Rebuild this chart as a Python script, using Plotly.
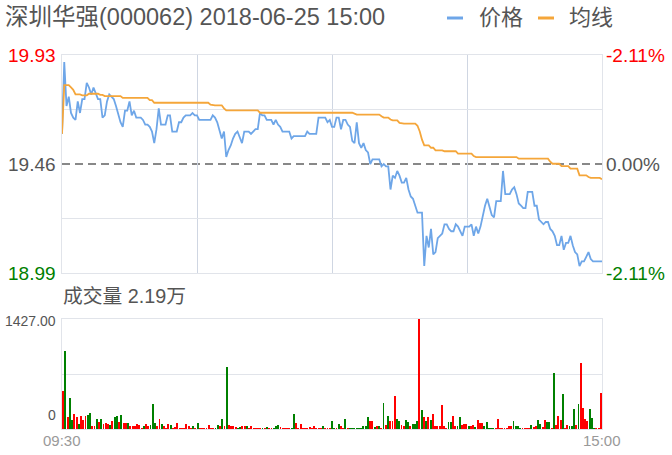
import plotly.graph_objects as go

# ---------------- data ----------------
title_text = "深圳华强(000062) 2018-06-25 15:00"
legend_names = ["价格", "均线"]
volume_caption = "成交量 2.19万"
pre_close = 19.46
price_top = 19.93
price_bottom = 18.99
grid_levels = [19.225, 19.695]
left_vals = [19.93, 19.46, 18.99]
left_text = ["19.93", "19.46", "18.99"]
right_text = ["-2.11%", "0.00%", "-2.11%"]
vol_max = 1427.0
vol_labels = ["1427.00", "0"]
time_labels = ["09:30", "15:00"]
time_pos = [0, 240]

price = [
    19.59, 19.90, 19.71, 19.75, 19.68, 19.66, 19.65, 19.73, 19.68, 19.74,
    19.74, 19.81, 19.79, 19.76, 19.79, 19.76, 19.74, 19.74, 19.66, 19.67,
    19.73, 19.76, 19.75, 19.74, 19.71, 19.67, 19.64, 19.62, 19.69, 19.69,
    19.73, 19.67, 19.69, 19.66, 19.66, 19.66, 19.65, 19.63, 19.63, 19.62,
    19.60, 19.55, 19.61, 19.70, 19.63, 19.63, 19.63, 19.67, 19.67, 19.60,
    19.60, 19.60, 19.64, 19.64, 19.66, 19.67, 19.67, 19.67, 19.68, 19.67,
    19.67, 19.65, 19.65, 19.65, 19.65, 19.65, 19.65, 19.67, 19.66, 19.64,
    19.60, 19.57, 19.60, 19.49, 19.52, 19.54, 19.57, 19.59, 19.60, 19.57,
    19.55, 19.60, 19.60, 19.60, 19.59, 19.60, 19.61, 19.61, 19.68, 19.67,
    19.67, 19.65, 19.65, 19.65, 19.63, 19.65, 19.63, 19.62, 19.60, 19.60,
    19.60, 19.60, 19.57, 19.58, 19.58, 19.58, 19.58, 19.58, 19.58, 19.60,
    19.59, 19.59, 19.59, 19.59, 19.66, 19.66, 19.66, 19.66, 19.64, 19.65,
    19.62, 19.62, 19.66, 19.66, 19.61, 19.65, 19.65, 19.63, 19.62, 19.56,
    19.55, 19.64, 19.55, 19.53, 19.55, 19.52, 19.51, 19.46, 19.48, 19.48,
    19.48, 19.48, 19.45, 19.46, 19.45, 19.45, 19.35, 19.41, 19.40, 19.43,
    19.41, 19.38, 19.38, 19.40, 19.35, 19.32, 19.31, 19.28, 19.25, 19.25,
    19.25, 19.02, 19.15, 19.10, 19.18, 19.07, 19.08, 19.14, 19.15, 19.16,
    19.20, 19.20, 19.18, 19.17, 19.17, 19.20, 19.19, 19.17, 19.15, 19.19,
    19.19, 19.19, 19.20, 19.15, 19.19, 19.16, 19.19, 19.24, 19.28, 19.31,
    19.27, 19.24, 19.23, 19.30, 19.30, 19.30, 19.43, 19.33, 19.33, 19.33,
    19.35, 19.36, 19.33, 19.29, 19.28, 19.27, 19.27, 19.34, 19.34, 19.34,
    19.28, 19.28, 19.22, 19.21, 19.20, 19.21, 19.21, 19.18, 19.17, 19.15,
    19.11, 19.11, 19.15, 19.09, 19.12, 19.12, 19.15, 19.11, 19.08, 19.07,
    19.02, 19.04, 19.04, 19.06, 19.08, 19.05, 19.04, 19.04, 19.04, 19.04, 19.04,
]

avg = [
    19.59, 19.80, 19.80, 19.80, 19.79, 19.78, 19.76, 19.76, 19.76, 19.756,
    19.756, 19.756, 19.763, 19.763, 19.763, 19.763, 19.763, 19.758, 19.758, 19.753,
    19.753, 19.753, 19.753, 19.753, 19.753, 19.753, 19.753, 19.745, 19.745, 19.745,
    19.745, 19.745, 19.745, 19.745, 19.745, 19.745, 19.745, 19.745, 19.745, 19.735,
    19.735, 19.724, 19.724, 19.724, 19.724, 19.724, 19.724, 19.724, 19.724, 19.724,
    19.724, 19.724, 19.724, 19.724, 19.724, 19.724, 19.724, 19.724, 19.724, 19.724,
    19.724, 19.724, 19.724, 19.724, 19.724, 19.724, 19.716, 19.713, 19.713, 19.713,
    19.713, 19.713, 19.700, 19.691, 19.691, 19.691, 19.691, 19.691, 19.691, 19.691,
    19.691, 19.691, 19.691, 19.691, 19.691, 19.691, 19.691, 19.691, 19.681, 19.681,
    19.681, 19.681, 19.681, 19.681, 19.681, 19.681, 19.681, 19.681, 19.681, 19.681,
    19.681, 19.681, 19.681, 19.681, 19.681, 19.681, 19.681, 19.681, 19.681, 19.681,
    19.681, 19.681, 19.681, 19.681, 19.681, 19.681, 19.681, 19.681, 19.681, 19.681,
    19.681, 19.681, 19.681, 19.681, 19.681, 19.681, 19.681, 19.681, 19.681, 19.681,
    19.677, 19.673, 19.673, 19.673, 19.673, 19.673, 19.673, 19.673, 19.673, 19.673,
    19.673, 19.673, 19.666, 19.660, 19.660, 19.660, 19.652, 19.648, 19.648, 19.648,
    19.637, 19.634, 19.634, 19.634, 19.634, 19.634, 19.634, 19.634, 19.625, 19.600,
    19.565, 19.540, 19.540, 19.540, 19.530, 19.530, 19.519, 19.519, 19.519, 19.519,
    19.515, 19.515, 19.515, 19.515, 19.515, 19.515, 19.505, 19.505, 19.505, 19.505,
    19.505, 19.505, 19.505, 19.494, 19.490, 19.490, 19.490, 19.490, 19.490, 19.490,
    19.490, 19.490, 19.490, 19.490, 19.490, 19.490, 19.490, 19.490, 19.490, 19.490,
    19.490, 19.490, 19.490, 19.483, 19.483, 19.483, 19.483, 19.483, 19.483, 19.483,
    19.483, 19.483, 19.483, 19.483, 19.483, 19.483, 19.483, 19.470, 19.461, 19.461,
    19.461, 19.461, 19.451, 19.451, 19.451, 19.451, 19.440, 19.440, 19.440, 19.440,
    19.411, 19.411, 19.411, 19.411, 19.404, 19.400, 19.400, 19.400, 19.400, 19.400, 19.394,
]

volume = [
    497, 1016, 156, 402, 121, 199, 156, 69, 164, 121,
    164, 186, 208, 35, 35, 130, 86, 130, 69, 78,
    69, 56, 99, 156, 164, 86, 186, 78, 78, 78,
    35, 35, 35, 69, 56, 9, 35, 69, 35, 56,
    329, 78, 35, 130, 69, 43, 13, 69, 56, 13,
    26, 78, 13, 9, 17, 65, 35, 17, 43, 9,
    78, 13, 9, 9, 9, 56, 9, 9, 9, 56,
    35, 130, 43, 800, 52, 35, 35, 26, 17, 26,
    35, 43, 35, 9, 35, 17, 9, 9, 9, 17,
    9, 26, 13, 9, 9, 35, 56, 26, 9, 9,
    9, 9, 13, 199, 78, 13, 69, 13, 13, 13,
    26, 9, 35, 9, 9, 9, 43, 9, 9, 9,
    99, 9, 13, 69, 35, 9, 130, 17, 9, 13,
    9, 13, 9, 9, 35, 35, 156, 99, 99, 26,
    35, 35, 13, 337, 56, 173, 99, 99, 424, 130,
    99, 56, 35, 112, 86, 35, 69, 69, 104, 1427,
    251, 156, 99, 156, 121, 195, 35, 35, 35, 316,
    35, 13, 86, 86, 164, 35, 35, 156, 56, 69,
    69, 35, 35, 56, 26, 121, 78, 78, 35, 86,
    9, 9, 9, 9, 130, 9, 9, 9, 13, 35,
    43, 104, 35, 35, 17, 9, 9, 9, 9, 52,
    26, 35, 112, 69, 26, 112, 86, 86, 9, 726,
    52, 173, 121, 458, 17, 52, 35, 35, 259, 52,
    329, 856, 272, 130, 99, 259, 147, 9, 9, 9, 467,
]

# r = red bar, g = green bar, one character per minute (rows of 10)
vol_dir = "".join([
    "rgrggrrgrr", "rggrrgrgrr", "rgrggrgrrg", "rrrrrrgrrg",
    "ggrrgrrrgr", "rrrrrrrrgr", "grrrrrrrgg", "rgrgrrrrgg",
    "rrgrrrrrrg", "rgrrgggrrr", "rrggrrrrrr", "rrrrrrgrrr",
    "ggrgrrgrgg", "gggggggrrg", "rgrgrgrrrg", "grrggrgggr",
    "grgrgrrrrr", "rrggrrggrr", "rgrrgrrrgg", "gggrrrrrrr",
    "rggggrrrrg", "rrggrrggrg", "rrrgrrgggr", "grrrrgggrrr",
])

# ---------------- styling ----------------
W, H = 672, 455
BLUE = "#6ea6e8"
ORANGE = "#f5a63a"
RED = "#ff0000"
GREEN = "#008000"
HGRID = "#e1e4ea"
VGRID = "#cfd6e2"
TXT = "#555555"
FONT = "Liberation Sans, Arial, Noto Sans CJK SC, sans-serif"


def px(x):
    return x / W


def py(y):
    return 1 - y / H


idx = list(range(len(price)))
bar_colors = [RED if c == "r" else GREEN for c in vol_dir]

fig = go.Figure()
fig.add_trace(go.Scatter(x=idx, y=price, mode="lines", line=dict(color=BLUE, width=1.8),
                         xaxis="x", yaxis="y", hoverinfo="skip", showlegend=False))
fig.add_trace(go.Scatter(x=idx, y=avg, mode="lines", line=dict(color=ORANGE, width=1.8),
                         xaxis="x", yaxis="y", hoverinfo="skip", showlegend=False))
fig.add_trace(go.Bar(x=list(range(len(volume))), y=volume, marker=dict(color=bar_colors, line=dict(width=0)),
                     width=0.85, xaxis="x2", yaxis="y2", hoverinfo="skip", showlegend=False))

axis_common = dict(zeroline=False, showline=True, mirror=True, linecolor=HGRID, linewidth=1,
                   showticklabels=False, ticks="", fixedrange=True)

fig.update_layout(
    width=W, height=H, autosize=False,
    margin=dict(l=0, r=0, t=0, b=0),
    paper_bgcolor="white", plot_bgcolor="white",
    font=dict(family=FONT, color=TXT),
    showlegend=False,
    hovermode=False,
    xaxis=dict(domain=[px(62), px(602)], range=[0, 240], anchor="y",
               tickvals=[60, 120, 180], showgrid=True, gridcolor=VGRID, gridwidth=1, **axis_common),
    yaxis=dict(domain=[py(273), py(55)], range=[price_bottom, price_top], anchor="x",
               tickvals=grid_levels, showgrid=True, gridcolor=HGRID, gridwidth=1, **axis_common),
    xaxis2=dict(domain=[px(62), px(602)], range=[-0.5, len(volume) - 0.5], anchor="y2",
                showgrid=False, **axis_common),
    yaxis2=dict(domain=[py(429), py(319)], range=[0, vol_max], anchor="x2",
                tickvals=[vol_max / 2], showgrid=True, gridcolor=HGRID, gridwidth=1, **axis_common),
    bargap=0,
)

fig.add_shape(type="line", xref="x", yref="y", x0=0, x1=240, y0=pre_close, y1=pre_close,
              line=dict(color="#888888", width=2, dash="8px,5px"), layer="below")

ann = []
# title
ann.append(dict(text=title_text, xref="paper", yref="paper", x=px(3), y=py(17),
                xanchor="left", yanchor="middle", showarrow=False,
                font=dict(size=23.5, color=TXT, family=FONT)))
# legend
leg_colors = [BLUE, ORANGE]
leg_line_x = [447, 538]
leg_text_x = [477, 567]
for name, col, lx, tx in zip(legend_names, leg_colors, leg_line_x, leg_text_x):
    fig.add_shape(type="line", xref="paper", yref="paper", x0=px(lx), x1=px(lx + 16),
                  y0=py(18), y1=py(18), line=dict(color=col, width=3))
    ann.append(dict(text=name, xref="paper", yref="paper", x=px(tx), y=py(17.5),
                    xanchor="left", yanchor="middle", showarrow=False,
                    font=dict(size=22, color=TXT, family=FONT)))
# price axis labels
side_colors = [RED, TXT, GREEN]
for v, lt, rt, col in zip(left_vals, left_text, right_text, side_colors):
    ann.append(dict(text=lt, xref="paper", yref="y", x=px(58), y=v, xanchor="right",
                    yanchor="middle", showarrow=False, font=dict(size=19, color=col, family=FONT)))
    ann.append(dict(text=rt, xref="paper", yref="y", x=px(604), y=v, xanchor="left",
                    yanchor="middle", showarrow=False, font=dict(size=19, color=col, family=FONT)))
# volume caption and labels
ann.append(dict(text=volume_caption, xref="paper", yref="paper", x=px(61), y=py(296),
                xanchor="left", yanchor="middle", showarrow=False,
                font=dict(size=19.8, color=TXT, family=FONT)))
ann.append(dict(text=vol_labels[0], xref="paper", yref="y2", x=px(58), y=vol_max, yshift=-2,
                xanchor="right", yanchor="middle", showarrow=False,
                font=dict(size=14, color=TXT, family=FONT)))
ann.append(dict(text=vol_labels[1], xref="paper", yref="y2", x=px(58), y=0, yshift=4,
                xanchor="right", yanchor="bottom", showarrow=False,
                font=dict(size=14, color=TXT, family=FONT)))
# time labels
for t, p in zip(time_labels, time_pos):
    ann.append(dict(text=t, xref="x", yref="paper", x=p, y=py(440), xanchor="center",
                    yanchor="middle", showarrow=False, font=dict(size=15, color="#999999", family=FONT)))

fig.update_layout(annotations=ann)
fig.write_html("out.html", config={"displayModeBar": False, "staticPlot": True},
               post_script="document.body.style.margin='0';document.body.style.overflow='hidden';")
